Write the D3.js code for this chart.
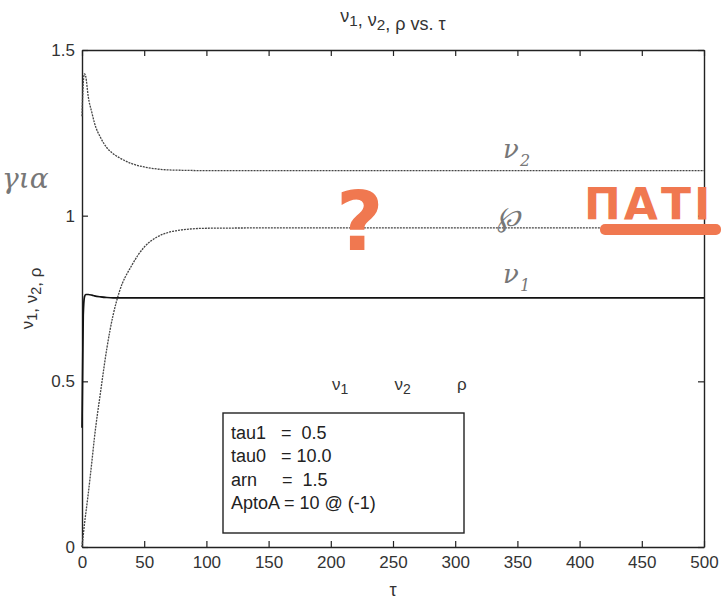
<!DOCTYPE html>
<html>
<head>
<meta charset="utf-8">
<script src="https://cdn.jsdelivr.net/npm/d3@7"></script>
<style>
	body { margin: 0; background: #fff; }
	svg { display: block; font-family: "Liberation Sans", Arial, sans-serif; }
	.hand { font-family: "DejaVu Serif", serif; font-style: italic; }
</style>
</head>
<body>
<svg width="721" height="610"></svg>
<script>
const tau = [0, 1, 2, 3, 5, 8, 10, 15, 20, 25, 30, 40, 50, 60, 70, 80, 100, 150, 200, 300, 400, 500];
const nu1 = [0.36, 0.70, 0.755, 0.762, 0.762, 0.760, 0.758, 0.755, 0.753, 0.752, 0.752, 0.752, 0.752, 0.752, 0.752, 0.752, 0.752, 0.752, 0.752, 0.752, 0.752, 0.752];
const nu2 = [1.30, 1.40, 1.428, 1.42, 1.36, 1.31, 1.28, 1.235, 1.205, 1.187, 1.175, 1.157, 1.147, 1.141, 1.138, 1.137, 1.136, 1.136, 1.136, 1.136, 1.136, 1.136];
const rho = [0, 0.035, 0.07, 0.10, 0.16, 0.26, 0.33, 0.47, 0.60, 0.70, 0.77, 0.85, 0.905, 0.935, 0.95, 0.957, 0.962, 0.963, 0.963, 0.963, 0.963, 0.963];

const xTicks = [0, 50, 100, 150, 200, 250, 300, 350, 400, 450, 500];
const yTicks = [0, 0.5, 1, 1.5];
const paramLines = ["tau1   =  0.5", "tau0   = 10.0", "arn     =  1.5", "AptoA = 10 @ (-1)"];
const legendNames = [["ν", "1"], ["ν", "2"], ["ρ", ""]];

const margin = { top: 50, right: 17, bottom: 63, left: 82 };
const width = 721;
const height = 610;

const svg = d3.select("svg");

const x = d3.scaleLinear().domain([0, 500]).range([margin.left, width - margin.right]);
const y = d3.scaleLinear().domain([0, 1.5]).range([height - margin.bottom, margin.top]);

// axes, ticks pointing in like matlab
const styleAxis = (g, labels) => {
	g.select(".domain").attr("stroke", "#222").attr("stroke-width", 1.4);
	g.selectAll(".tick line").attr("stroke", "#222").attr("stroke-width", 1.2);
	g.selectAll(".tick text").attr("font-size", 17).attr("fill", "#333")
		.attr("font-family", "Liberation Sans, Arial, sans-serif");
	if (!labels) g.selectAll(".tick text").remove();
};

svg.append("g")
	.attr("transform", `translate(0,${y(0)})`)
	.call(d3.axisBottom(x).tickValues(xTicks).tickSize(-6).tickSizeOuter(0).tickPadding(9).tickFormat(d => d))
	.call(g => styleAxis(g, true));

svg.append("g")
	.attr("transform", `translate(0,${y(1.5)})`)
	.call(d3.axisTop(x).tickValues(xTicks).tickSize(-6).tickSizeOuter(0))
	.call(g => styleAxis(g, false));

svg.append("g")
	.attr("transform", `translate(${x(0)},0)`)
	.call(d3.axisLeft(y).tickValues(yTicks).tickSize(-6).tickSizeOuter(0).tickPadding(7).tickFormat(d => d))
	.call(g => styleAxis(g, true));

svg.append("g")
	.attr("transform", `translate(${x(500)},0)`)
	.call(d3.axisRight(y).tickValues(yTicks).tickSize(-6).tickSizeOuter(0))
	.call(g => styleAxis(g, false));

// curves
const line = vals => d3.line()
	.x((d, i) => x(tau[i]))
	.y(d => y(d))
	.curve(d3.curveMonotoneX)(vals);

svg.append("path").attr("d", line(nu2))
	.attr("fill", "none").attr("stroke", "#444").attr("stroke-width", 1.3).attr("stroke-dasharray", "2,1");
svg.append("path").attr("d", line(rho))
	.attr("fill", "none").attr("stroke", "#444").attr("stroke-width", 1.3).attr("stroke-dasharray", "2,1");
svg.append("path").attr("d", line(nu1))
	.attr("fill", "none").attr("stroke", "#111").attr("stroke-width", 1.7);

// title and labels
const subText = (sel, parts, size) => {
	parts.forEach(([a, b], i) => {
		if (i > 0) sel.append("tspan").text(", ");
		sel.append("tspan").text(a);
		if (b) {
			sel.append("tspan").attr("dy", 4).attr("font-size", size * 0.85).text(b);
			sel.append("tspan").attr("dy", -4).text("");
		}
	});
};

const title = svg.append("text")
	.attr("x", (x(0) + x(500)) / 2).attr("y", 22)
	.attr("text-anchor", "middle").attr("font-size", 18).attr("fill", "#333");
subText(title, legendNames, 18);
title.append("tspan").text(" vs. τ");

svg.append("text")
	.attr("x", (x(0) + x(500)) / 2).attr("y", 596)
	.attr("text-anchor", "middle").attr("font-size", 18).attr("fill", "#333")
	.text("τ");

const ylab = svg.append("text")
	.attr("transform", `translate(33,${y(0.75)}) rotate(-90)`)
	.attr("text-anchor", "middle").attr("font-size", 17).attr("fill", "#333");
subText(ylab, legendNames, 17);

// legend names (no line samples in the scan)
const legendX = d3.scalePoint().domain(legendNames.map(d => d[0] + d[1])).range([332, 457]);
legendNames.forEach(([a, b]) => {
	const t = svg.append("text")
		.attr("x", legendX(a + b)).attr("y", 390)
		.attr("font-size", 17).attr("fill", "#333");
	t.append("tspan").text(a);
	if (b) t.append("tspan").attr("dy", 4).attr("font-size", 14).text(b);
});

// parameter box
svg.append("rect")
	.attr("x", 223).attr("y", 413).attr("width", 241).attr("height", 120)
	.attr("fill", "#fff").attr("stroke", "#222").attr("stroke-width", 1.4);

svg.append("g")
	.selectAll("text")
	.data(paramLines)
	.join("text")
	.attr("x", 231)
	.attr("y", (d, i) => 439 + i * 23.3)
	.attr("font-size", 18)
	.attr("fill", "#222")
	.style("white-space", "pre")
	.text(d => d);

// handwritten notes on the scan
const hand = svg.append("g").attr("class", "hand").attr("fill", "#777");
hand.append("text").attr("x", 503).attr("y", 158).attr("font-size", 26).text("ν");
hand.append("text").attr("x", 520).attr("y", 166).attr("font-size", 16).text("2");
hand.append("text").attr("x", 497).attr("y", 226).attr("font-size", 28).text("℘");
hand.append("text").attr("x", 503).attr("y", 283).attr("font-size", 26).text("ν");
hand.append("text").attr("x", 520).attr("y", 291).attr("font-size", 16).text("1");
hand.append("text").attr("x", 2).attr("y", 188).attr("font-size", 28).text("για");

const orange = svg.append("g").attr("fill", "#f07850");
orange.append("text").attr("x", 336).attr("y", 250).attr("font-size", 82)
	.attr("font-weight", "bold").attr("font-family", "DejaVu Sans, sans-serif").text("?");
orange.append("text").attr("x", 584).attr("y", 220).attr("font-size", 44)
	.attr("letter-spacing", 3)
	.attr("font-weight", "bold").attr("font-family", "DejaVu Sans, sans-serif").text("ΠΑΤΙ");
orange.append("rect").attr("x", 600).attr("y", 224).attr("width", 121).attr("height", 11).attr("rx", 5);
</script>
</body>
</html>
